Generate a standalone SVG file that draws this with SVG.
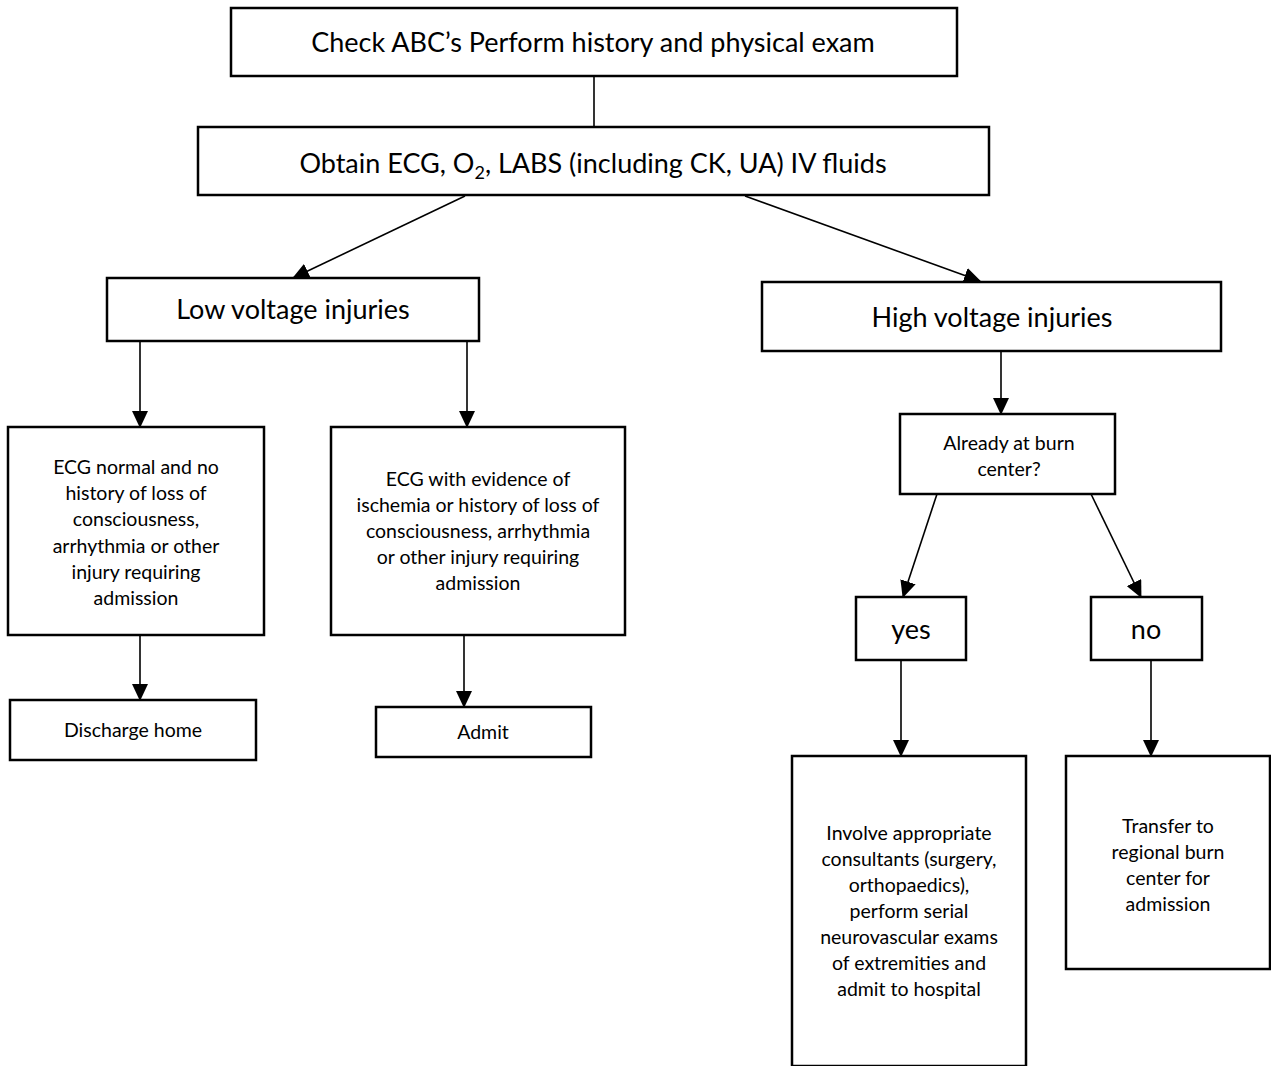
<svg xmlns="http://www.w3.org/2000/svg" width="1271" height="1066" viewBox="0 0 1271 1066">
  <style>
    .box { fill: #ffffff; stroke: #000000; stroke-width: 2.5; }
    .lnk { fill: none; stroke: #000000; stroke-width: 1.6; }
    text { font-family: Lato, "Liberation Sans", sans-serif; fill: #000000; text-anchor: middle; }
    .lg { font-size: 27px; }
    .sm { font-size: 19.5px; }
  </style>
  <defs>
    <marker id="arrow" markerUnits="userSpaceOnUse" markerWidth="17" markerHeight="16" refX="16" refY="8" orient="auto">
      <path d="M0,0 L17,8 L0,16 Z" fill="#000000"/>
    </marker>
  </defs>
  <rect width="1271" height="1066" fill="#ffffff"/>

  <!-- connectors -->
  <g id="connectors">
    <line class="lnk" x1="594" y1="76" x2="594" y2="127"/>
    <line class="lnk" x1="465" y1="196" x2="293" y2="278" marker-end="url(#arrow)"/>
    <line class="lnk" x1="745" y1="196" x2="980" y2="281" marker-end="url(#arrow)"/>
    <line class="lnk" x1="140" y1="341" x2="140" y2="427" marker-end="url(#arrow)"/>
    <line class="lnk" x1="467" y1="341" x2="467" y2="427" marker-end="url(#arrow)"/>
    <line class="lnk" x1="140" y1="635" x2="140" y2="700" marker-end="url(#arrow)"/>
    <line class="lnk" x1="464" y1="635" x2="464" y2="707" marker-end="url(#arrow)"/>
    <line class="lnk" x1="1001" y1="351" x2="1001" y2="414" marker-end="url(#arrow)"/>
    <line class="lnk" x1="937" y1="494" x2="903" y2="597" marker-end="url(#arrow)"/>
    <line class="lnk" x1="1091" y1="494" x2="1141" y2="597" marker-end="url(#arrow)"/>
    <line class="lnk" x1="901" y1="660" x2="901" y2="756" marker-end="url(#arrow)"/>
    <line class="lnk" x1="1151" y1="660" x2="1151" y2="756" marker-end="url(#arrow)"/>
  </g>

  <g id="check-abc">
    <rect class="box" x="231" y="8" width="726" height="68"/>
    <text class="lg" x="593" y="52">Check ABC’s Perform history and physical exam</text>
  </g>

  <g id="obtain-ecg">
    <rect class="box" x="198" y="127" width="791" height="68"/>
    <text class="lg" x="593" y="173">Obtain ECG, O<tspan font-size="18" dy="6">2</tspan><tspan dy="-6">, LABS (including CK, UA) IV fluids</tspan></text>
  </g>

  <g id="low-voltage">
    <rect class="box" x="107" y="278" width="372" height="63"/>
    <text class="lg" x="293" y="319">Low voltage injuries</text>
  </g>

  <g id="high-voltage">
    <rect class="box" x="762" y="282" width="459" height="69"/>
    <text class="lg" x="992" y="327">High voltage injuries</text>
  </g>

  <g id="ecg-normal">
    <rect class="box" x="8" y="427" width="256" height="208"/>
    <text class="sm" x="136" y="474">ECG normal and no</text>
    <text class="sm" x="136" y="500">history of loss of</text>
    <text class="sm" x="136" y="526">consciousness,</text>
    <text class="sm" x="136" y="553">arrhythmia or other</text>
    <text class="sm" x="136" y="579">injury requiring</text>
    <text class="sm" x="136" y="605">admission</text>
  </g>

  <g id="ecg-ischemia">
    <rect class="box" x="331" y="427" width="294" height="208"/>
    <text class="sm" x="478" y="486">ECG with evidence of</text>
    <text class="sm" x="478" y="512">ischemia or history of loss of</text>
    <text class="sm" x="478" y="538">consciousness, arrhythmia</text>
    <text class="sm" x="478" y="564">or other injury requiring</text>
    <text class="sm" x="478" y="590">admission</text>
  </g>

  <g id="discharge-home">
    <rect class="box" x="10" y="700" width="246" height="60"/>
    <text class="sm" x="133" y="737">Discharge home</text>
  </g>

  <g id="admit">
    <rect class="box" x="376" y="707" width="215" height="50"/>
    <text class="sm" x="483" y="739">Admit</text>
  </g>

  <g id="burn-center-question">
    <rect class="box" x="900" y="414" width="215" height="80"/>
    <text class="sm" x="1009" y="450">Already at burn</text>
    <text class="sm" x="1009" y="476">center?</text>
  </g>

  <g id="yes">
    <rect class="box" x="856" y="597" width="110" height="63"/>
    <text class="lg" x="911" y="639">yes</text>
  </g>

  <g id="no">
    <rect class="box" x="1091" y="597" width="111" height="63"/>
    <text class="lg" x="1146" y="639">no</text>
  </g>

  <g id="involve-consultants">
    <rect class="box" x="792" y="756" width="234" height="310"/>
    <text class="sm" x="909" y="840">Involve appropriate</text>
    <text class="sm" x="909" y="866">consultants (surgery,</text>
    <text class="sm" x="909" y="892">orthopaedics),</text>
    <text class="sm" x="909" y="918">perform serial</text>
    <text class="sm" x="909" y="944">neurovascular exams</text>
    <text class="sm" x="909" y="970">of extremities and</text>
    <text class="sm" x="909" y="996">admit to hospital</text>
  </g>

  <g id="transfer">
    <rect class="box" x="1066" y="756" width="204" height="213"/>
    <text class="sm" x="1168" y="833">Transfer to</text>
    <text class="sm" x="1168" y="859">regional burn</text>
    <text class="sm" x="1168" y="885">center for</text>
    <text class="sm" x="1168" y="911">admission</text>
  </g>
</svg>
